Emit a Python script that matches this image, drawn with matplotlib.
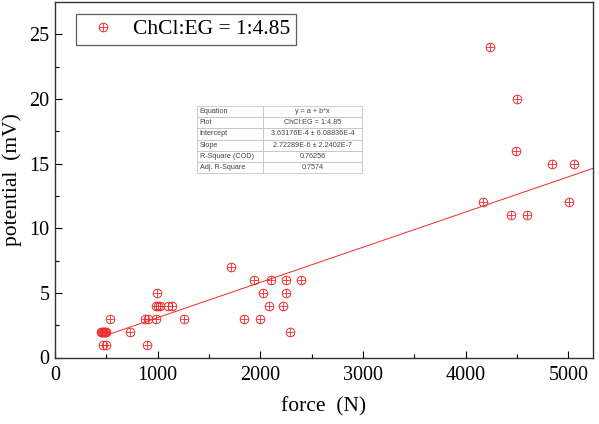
import matplotlib
matplotlib.use("Agg")
import matplotlib.pyplot as plt
import numpy as np
from matplotlib.lines import Line2D
from matplotlib.legend_handler import HandlerTuple

# data
force = [450, 460, 470, 480, 490, 500, 470, 497, 532, 730, 896, 876, 902, 987,
         990, 987, 1005, 1022, 1103, 1136, 1259, 1714, 1837, 1938, 1999, 2025,
         2080, 2100, 2217, 2249, 2249, 2291, 2395,
         4170, 4239, 4437, 4489, 4495, 4596, 4836, 5005, 5054]
potential = [2, 2, 2, 2, 2, 2, 1, 1, 3, 2, 1, 3, 3, 3,
             5, 4, 4, 4, 4, 4, 3, 7, 3, 6, 3, 5,
             4, 6, 4, 6, 5, 2, 6,
             12, 24, 11, 16, 20, 11, 15, 12, 15]

# linear fit parameters from the table (V/N -> mV/N)
intercept = 3.63176e-4 * 1000
slope = 2.72289e-6 * 1000

table_rows = [["Equation", "y = a + b*x"],
              ["Plot", "ChCl:EG = 1:4.85"],
              ["Intercept", "3.63176E-4 \u00b1 6.08836E-4"],
              ["Slope", "2.72289E-6 \u00b1 2.2402E-7"],
              ["R-Square (COD)", "0.76256"],
              ["Adj. R-Square", "0.7574"]]

xlim = (0, 5240)
ylim = (0, 27.5)

plt.rcParams['font.family'] = ['Liberation Serif', 'DejaVu Serif']
fig = plt.figure(figsize=(5.99, 4.24), dpi=100)
ax = fig.add_axes([55/599, 1-357.5/424, 538/599, 355.5/424])

red = '#ee2a2a'
ms = 6.2
ax.plot(force, potential, linestyle='none', marker='o', ms=ms, mfc='none',
        mec=red, mew=0.7, zorder=3)
ax.plot(force, potential, linestyle='none', marker='+', ms=ms, mec=red,
        mew=0.6, zorder=3)

xf = np.array([min(force), xlim[1]])
ax.plot(xf, intercept + slope * xf, color=red, lw=0.7, zorder=2)

ax.set_xlim(*xlim)
ax.set_ylim(*ylim)
ax.set_xticks([0, 1000, 2000, 3000, 4000, 5000])
ax.set_xticks(np.arange(500, 5240, 1000), minor=True)
ax.set_yticks([0, 5, 10, 15, 20, 25])
ax.set_yticks([2.5, 7.5, 12.5, 17.5, 22.5], minor=True)
ax.tick_params(which='both', direction='in', top=False, right=False,
               labelsize=14.5)
ax.tick_params(axis='x', which='major', pad=6)
ax.tick_params(axis='y', which='major', pad=4)
ax.tick_params(which='major', length=5, width=0.8)
ax.tick_params(which='minor', length=3, width=0.8)
for s in ax.spines.values():
    s.set_linewidth(1.0)
    s.set_color('#333333')
ax.set_xlabel('force  (N)', fontsize=15.5, labelpad=9)
ax.set_ylabel('potential  (mV)', fontsize=15.5, labelpad=5)

# legend (custom box)
h = (Line2D([], [], linestyle='none', marker='o', ms=ms, mfc='none', mec=red, mew=0.7),
     Line2D([], [], linestyle='none', marker='+', ms=ms, mec=red, mew=0.6))
leg = ax.legend([h], ['ChCl:EG = 1:4.85'], loc='upper left',
                bbox_to_anchor=((76-55)/538, 1-(14-2)/355.5), fancybox=False,
                edgecolor='#333333', fontsize=15.5, borderpad=0.25,
                handlelength=2.0, handletextpad=0.4, borderaxespad=0,
                handler_map={tuple: HandlerTuple(ndivide=1)})
leg.get_frame().set_linewidth(0.9)

# fit table
tab = ax.table(cellText=table_rows, cellLoc='center', colWidths=[66/538, 99/538],
               bbox=[(197-55)/538, 1-(173-2)/355.5, 165/538, 67/355.5])
tab.auto_set_font_size(False)
for (r, c), cell in tab.get_celld().items():
    cell.set_edgecolor('#bbbbbb')
    cell.set_linewidth(0.5)
    cell.get_text().set_fontsize(5.2)
    cell.get_text().set_fontfamily('Liberation Sans')
    cell.get_text().set_color('#444444')
    if c == 0:
        cell.get_text().set_horizontalalignment('left')
        cell.PAD = 0.04

fig.savefig('out.png', dpi=100)
